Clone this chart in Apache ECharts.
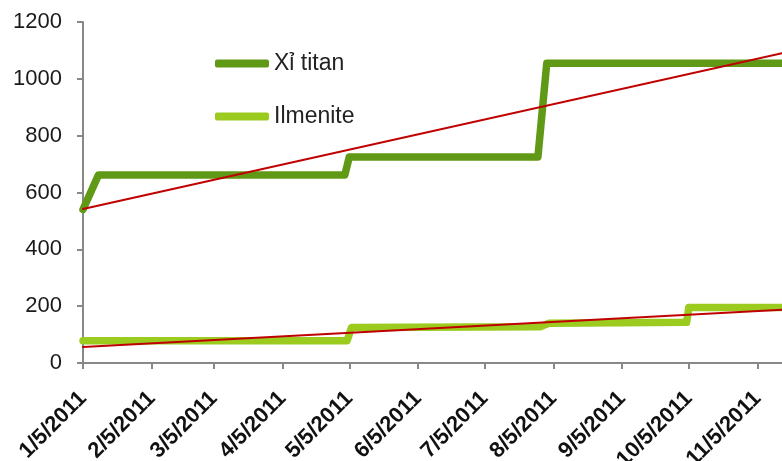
<!DOCTYPE html>
<html>
<head>
<meta charset="utf-8">
<script src="https://cdn.jsdelivr.net/npm/echarts@6/dist/echarts.min.js"></script>
<style>
  html, body { margin: 0; padding: 0; background: #fff; }
  #chart { width: 782px; height: 461px; }
</style>
</head>
<body>
<div id="chart"></div>
<script>
const tickLabels = ['1/5/2011', '2/5/2011', '3/5/2011', '4/5/2011', '5/5/2011', '6/5/2011',
    '7/5/2011', '8/5/2011', '9/5/2011', '10/5/2011', '11/5/2011'];
const axisStart = '2011-01-05';
const axisEnd = '2011-11-16';

const xiDates = ['2011-01-05', '2011-01-12', '2011-05-03', '2011-05-05', '2011-07-29', '2011-08-02', '2011-11-16'];
const xiValues = [540, 662, 662, 725, 725, 1055, 1055];

const ilmDates = ['2011-01-05', '2011-05-04', '2011-05-06', '2011-07-30', '2011-08-03', '2011-10-04', '2011-10-05', '2011-11-16'];
const ilmValues = [78, 78, 125, 128, 140, 143, 195, 195];

const xiTrendDates = ['2011-01-05', '2011-11-16'];
const xiTrendValues = [542, 1090];
const ilmTrendDates = ['2011-01-05', '2011-11-16'];
const ilmTrendValues = [56, 187];

// time values as plain numbers (ms) on a value axis
const toTime = (s)=>{
    const p = s.split('-').map(Number);
    return Date.UTC(p[0], p[1] - 1, p[2]);
};
const labelTime = (s)=>{
    const p = s.split('/').map(Number);
    return Date.UTC(p[2], p[0] - 1, p[1]);
};
const pairs = (dates, values)=> dates.map((d, i)=> [toTime(d), values[i]]);

const tickTimes = tickLabels.map(labelTime);

const lineSeries = (name, data, color, width, z)=>({
    name,
    type: 'line',
    data,
    symbol: 'none',
    z,
    lineStyle: { color, width, cap: 'round', join: 'round' },
    itemStyle: { color }
});

const chart = echarts.init(document.getElementById('chart'));
chart.setOption({
    animation: false,
    grid: { left: 83, right: 0, top: 22, bottom: 98, containLabel: false, outerBoundsMode: 'none' },
    legend: {
        orient: 'vertical',
        left: 215,
        top: 52,
        padding: 0,
        itemGap: 30,
        itemWidth: 54,
        itemHeight: 8,
        icon: 'roundRect',
        data: ['Xỉ titan', 'Ilmenite'],
        textStyle: { fontFamily: 'Liberation Sans, Arial, sans-serif', fontSize: 23, color: '#222' }
    },
    xAxis: {
        type: 'value',
        min: toTime(axisStart),
        max: toTime(axisEnd),
        axisLine: { lineStyle: { color: '#888', width: 2 } },
        axisTick: { show: true, length: 6, lineStyle: { color: '#888', width: 2 }, customValues: tickTimes },
        splitLine: { show: false },
        axisLabel: {
            customValues: tickTimes,
            rotate: 45,
            margin: 32,
            hideOverlap: false,
            fontFamily: 'Liberation Sans, Arial, sans-serif',
            fontSize: 22,
            fontWeight: 'bold',
            color: '#111',
            formatter: (v)=>{
                const i = tickTimes.indexOf(v);
                return i >= 0 ? tickLabels[i] : '';
            }
        }
    },
    yAxis: {
        type: 'value',
        min: 0,
        max: 1200,
        interval: 200,
        axisLine: { show: true, lineStyle: { color: '#888', width: 2 } },
        axisTick: { show: true, length: 6, lineStyle: { color: '#888', width: 2 } },
        splitLine: { show: false },
        axisLabel: {
            margin: 21,
            fontFamily: 'Liberation Sans, Arial, sans-serif',
            fontSize: 22,
            color: '#1a1a1a',
            formatter: (v)=> String(v)
        }
    },
    series: [
        lineSeries('Xỉ titan', pairs(xiDates, xiValues), '#609916', 7.5, 2),
        lineSeries('Ilmenite', pairs(ilmDates, ilmValues), '#9acb1e', 7.5, 2),
        lineSeries('trend1', pairs(xiTrendDates, xiTrendValues), '#c00000', 2, 3),
        lineSeries('trend2', pairs(ilmTrendDates, ilmTrendValues), '#c00000', 2, 3)
    ]
});
</script>
</body>
</html>
